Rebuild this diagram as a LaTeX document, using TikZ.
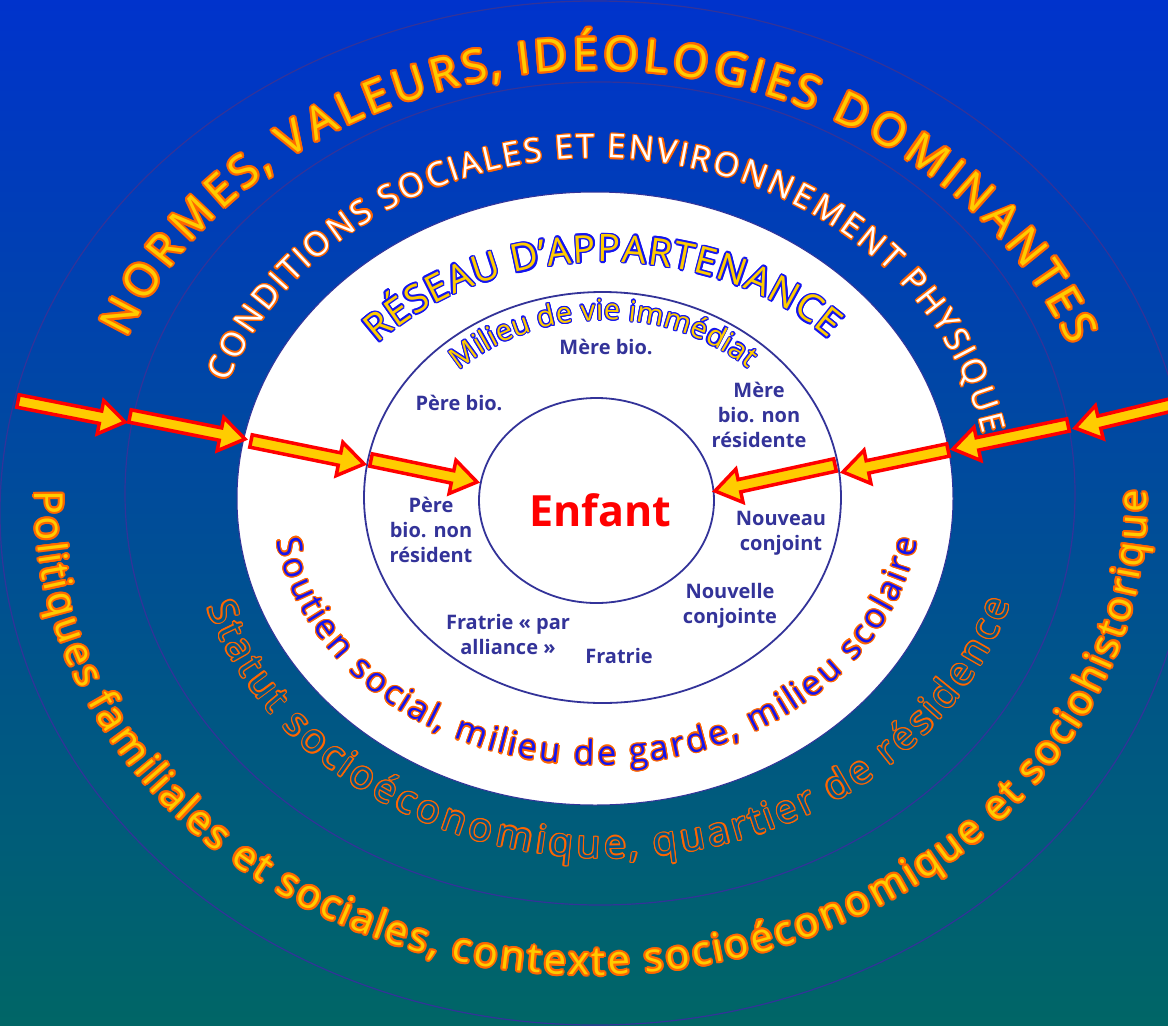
\documentclass[tikz,border=0pt]{standalone}
\usepackage{fontspec}
\setmainfont{Open Sans}
\usepackage{contour}
\contournumber{12}
\usetikzlibrary{decorations.text,calc}
\definecolor{bgtop}{RGB}{0,51,204}
\definecolor{bgbot}{RGB}{0,102,102}
\definecolor{ringc}{RGB}{51,51,153}
\definecolor{gold}{RGB}{255,204,0}
\definecolor{orng}{RGB}{255,102,0}
\definecolor{vblue}{RGB}{20,20,240}
\definecolor{navy}{RGB}{51,51,153}
\definecolor{hollowc}{RGB}{0,86,136}
\definecolor{redc}{RGB}{255,0,0}
\newcommand\olOrangeThick[1]{\contourlength{2pt}\contour{orng}{#1}}
\newcommand\olOrangeThin[1]{\contourlength{1.2pt}\contour{orng}{#1}}
\newcommand\olBlue[1]{\contourlength{1.6pt}\contour{vblue}{#1}}
\newcommand\olBlueThin[1]{\contourlength{1.1pt}\contour{vblue}{#1}}
\newcommand\blockarrow[2]{%
  \coordinate (hb) at ($(#2)!25pt!(#1)$);
  \draw[arrowsty] ($(#1)!6.3pt!90:(#2)$) -- ($(hb)!6.3pt!90:(#2)$) -- ($(hb)!17pt!90:(#2)$) -- (#2)
     -- ($(hb)!17pt!-90:(#2)$) -- ($(hb)!6.3pt!-90:(#2)$) -- ($(#1)!6.3pt!-90:(#2)$) -- cycle;}
\tikzset{
  arrowsty/.style={draw=redc, fill=gold, line width=3.5pt, line join=miter, miter limit=10},
  ringthin/.style={draw=ringc, line width=1.2pt},
  ringthick/.style={draw=ringc, line width=1.8pt},
  lbl/.style={font=\bfseries\fontsize{20}{25}\selectfont, text=navy, align=center, inner sep=0pt},
}
\begin{document}
\begin{tikzpicture}[x=1pt,y=1pt]
\useasboundingbox (0,0) rectangle (1168,-1026);
\shade[top color=bgtop, bottom color=bgbot] (0,0) rectangle (1168,-1026);
% rings
\draw[ringthin] (595,-513) ellipse [x radius=595, y radius=512];
\draw[ringthin] (600,-493.5) ellipse [x radius=475, y radius=411.5];
\draw[fill=white, draw=ringc, line width=1pt] (595,-498.5) ellipse [x radius=358, y radius=306.5];
\draw[ringthick] (602.5,-497.5) ellipse [x radius=238.5, y radius=205.5];
\draw[ringthick] (596.5,-500.5) ellipse [x radius=117.5, y radius=102.5];
% centres for curved texts
\coordinate (cA) at (597,-500);
\coordinate (cB) at (606,-500);
\coordinate (cC) at (605,-500);
\coordinate (cD) at (608,-500);
\coordinate (cE) at (591,-500);
% curved texts
\path[decorate, decoration={text effects along path, text={NORMES, VALEURS, IDÉOLOGIES DOMINANTES},
   text effects/.cd, text along path, fit text to path, character command=\olOrangeThick},
   font=\fontsize{45}{45}\selectfont, text=gold]
  ($(cA)+(158:507 and 430)$) arc[start angle=158, end angle=21, x radius=507, y radius=430];
\path[decorate, decoration={text effects along path, text={CONDITIONS SOCIALES ET ENVIRONNEMENT PHYSIQUE},
   text effects/.cd, text along path, fit text to path, character command=\olOrangeThin},
   font=\fontsize{33}{33}\selectfont, text=white]
  ($(cA)+(160:393 and 342)$) arc[start angle=160, end angle=11, x radius=393, y radius=342];
\path[decorate, decoration={text effects along path, text={RÉSEAU D'APPARTENANCE},
   text effects/.cd, text along path, fit text to path, character command=\olBlue},
   font=\fontsize{38}{38}\selectfont, text=gold]
  ($(cB)+(139:303 and 238)$) arc[start angle=139, end angle=42.5, x radius=303, y radius=238];
\path[decorate, decoration={text effects along path, text={Milieu de vie immédiat},
   text effects/.cd, text along path, fit text to path, character command=\olBlueThin},
   font=\fontsize{29}{29}\selectfont, text=gold]
  ($(cC)+(134:210 and 180)$) arc[start angle=134, end angle=47, x radius=210, y radius=180];
\path[decorate, decoration={text effects along path, text={Soutien social, milieu de garde, milieu scolaire},
   text effects/.cd, text along path, fit text to path, character command=\olOrangeThin},
   font=\fontsize{34}{34}\selectfont, text=vblue]
  ($(cA)+(188.7:324 and 265)$) arc[start angle=188.7, end angle=351.3, x radius=324, y radius=265];
\path[decorate, decoration={text effects along path, text={Statut socioéconomique, quartier de résidence},
   text effects/.cd, text along path, fit text to path, character command=\olOrangeThin},
   font=\fontsize{39}{39}\selectfont, text=hollowc]
  ($(cD)+(197.4:420 and 358)$) arc[start angle=197.4, end angle=343.3, x radius=420, y radius=358];
\path[decorate, decoration={text effects along path, text={Politiques familiales et sociales, contexte socioéconomique et sociohistorique},
   text effects/.cd, text along path, fit text to path, character command=\olOrangeThick},
   font=\fontsize{40}{40}\selectfont, text=gold]
  ($(cE)+(178.8:556 and 475)$) arc[start angle=178.8, end angle=361.2, x radius=556, y radius=475];
% labels
\node[lbl] (mb) at (606,-347) {Mère bio.};
\node[lbl] (pb) at (459,-403) {Père bio.};
\node[lbl] (mbnr) at (759,-415) {Mère\\bio. non\\résidente};
\node[lbl] (pbnr) at (431,-530) {Père\\bio. non\\résident};
\node[lbl] (nc) at (781,-533) {Nouveau\\conjoint};
\node[lbl] (nlc) at (730,-606) {Nouvelle\\conjointe};
\node[lbl] (fpa) at (508,-634) {Fratrie « par\\alliance »};
\node[lbl] (fr) at (619,-656) {Fratrie};
\node[font=\bfseries\fontsize{43}{43}\selectfont, text=redc, inner sep=0pt] (enf) at (600,-510) {Enfant};
% arrows
\coordinate (l0) at (18,-401);  \coordinate (l1) at (125,-422);
\coordinate (l2) at (130,-416); \coordinate (l3) at (245,-439);
\coordinate (l4) at (251,-441); \coordinate (l5) at (364,-464);
\coordinate (l6) at (371,-460); \coordinate (l7) at (477,-482);
\coordinate (r0) at (1175,-404); \coordinate (r1) at (1075,-428);
\coordinate (r2) at (1068,-425); \coordinate (r3) at (953,-449);
\coordinate (r4) at (948,-450); \coordinate (r5) at (843,-472);
\coordinate (r6) at (835,-465); \coordinate (r7) at (715,-491);
\blockarrow{l0}{l1}
\blockarrow{l2}{l3}
\blockarrow{l4}{l5}
\blockarrow{l6}{l7}
\blockarrow{r0}{r1}
\blockarrow{r2}{r3}
\blockarrow{r4}{r5}
\blockarrow{r6}{r7}
\end{tikzpicture}
\end{document}
